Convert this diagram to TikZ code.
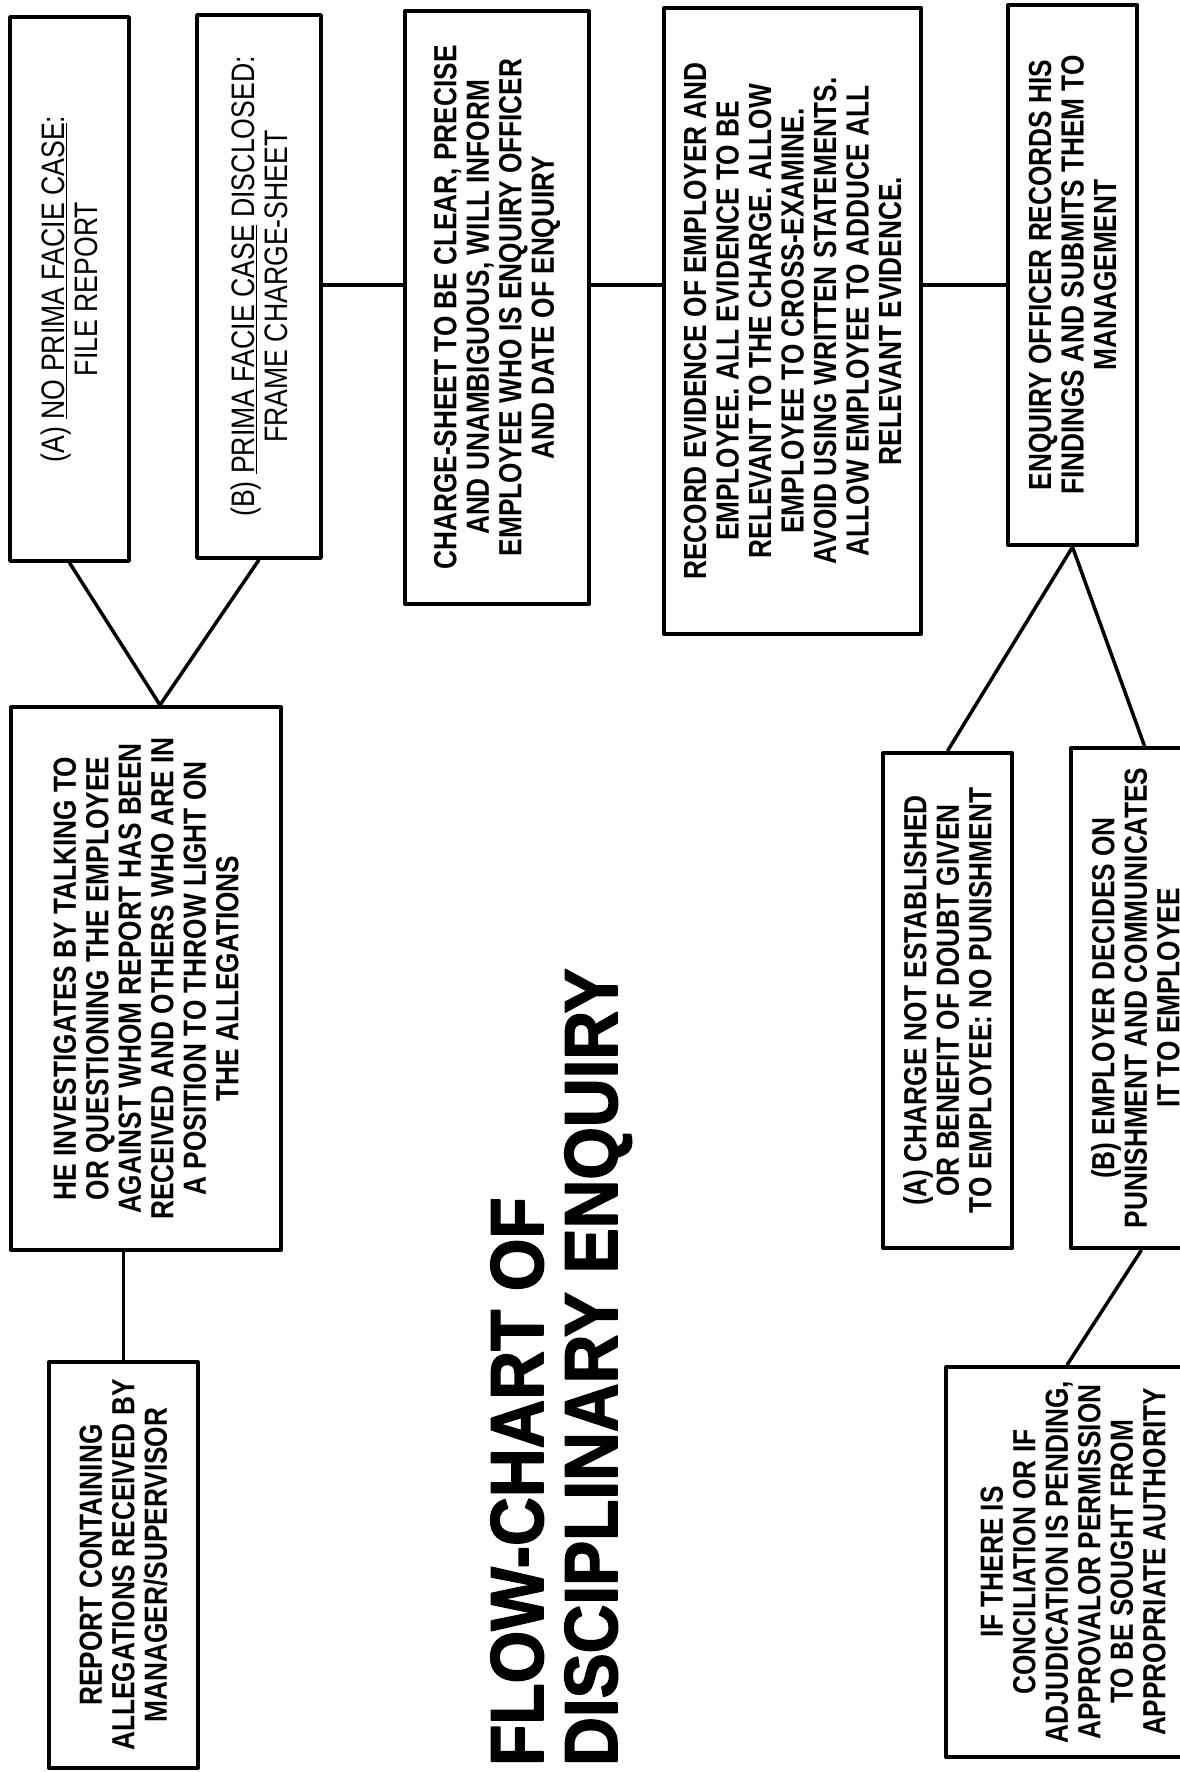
\documentclass[tikz,border=0pt]{standalone}
\usepackage{fontspec}
\setmainfont{Liberation Sans}[FakeStretch=0.82]
\newfontfamily\headfont{Liberation Sans}[FakeStretch=0.9,FakeBold=2]
\begin{document}
\begin{tikzpicture}[x=1pt,y=-1pt,line join=round,
		box/.style={draw,line width=4pt,rotate=90,align=center,inner sep=0pt,font=\bfseries\fontsize{32}{32.5}\selectfont},
		thinbox/.style={box,line width=3.5pt,font=\fontsize{32.5}{33}\selectfont},
		heading/.style={rotate=90,anchor=base west,inner sep=0pt,font=\headfont\bfseries\fontsize{75}{80}\selectfont},
		link/.style={line width=3.5pt}]
		\useasboundingbox (0,0) rectangle (1180,1772);
		\fill[white] (0,0) rectangle (1180,1772);
		\clip (0,0) rectangle (1180,1772);
		% boxes hanging from the top edge
		\node[thinbox,minimum width=544pt,minimum height=119pt] (nofacie) at (69.5,289) {(A) \underline{NO PRIMA FACIE CASE}:\\FILE REPORT};
		\node[thinbox,minimum width=543pt,minimum height=124pt] (facie) at (259,286.5) {(B) \underline{PRIMA FACIE CASE} DISCLOSED:\\FRAME CHARGE-SHEET};
		\node[box,minimum width=593pt,minimum height=184pt] (charge) at (497,307.5) {CHARGE-SHEET TO BE CLEAR, PRECISE\\AND UNAMBIGUOUS, WILL INFORM\\EMPLOYEE WHO IS ENQUIRY OFFICER\\AND DATE OF ENQUIRY};
		\node[box,minimum width=626pt,minimum height=257pt] (record) at (792.5,321) {RECORD EVIDENCE OF EMPLOYER AND\\EMPLOYEE. ALL EVIDENCE TO BE\\RELEVANT TO THE CHARGE. ALLOW\\EMPLOYEE TO CROSS-EXAMINE.\\AVOID USING WRITTEN STATEMENTS.\\ALLOW EMPLOYEE TO ADDUCE ALL\\RELEVANT EVIDENCE.};
		\node[box,minimum width=540pt,minimum height=129pt] (enquiry) at (1072.5,275) {ENQUIRY OFFICER RECORDS HIS\\FINDINGS AND SUBMITS THEM TO\\MANAGEMENT};
		% lower boxes
		\node[box,minimum width=543pt,minimum height=270pt] (investigate) at (146,978.5) {HE INVESTIGATES BY TALKING TO\\OR QUESTIONING THE EMPLOYEE\\AGAINST WHOM REPORT HAS BEEN\\RECEIVED AND OTHERS WHO ARE IN\\A POSITION TO THROW LIGHT ON\\THE ALLEGATIONS};
		\node[box,minimum width=406pt,minimum height=149pt] (report) at (123.5,1565) {REPORT CONTAINING\\ALLEGATIONS RECEIVED BY\\MANAGER/SUPERVISOR};
		\node[box,minimum width=495pt,minimum height=129pt] (notest) at (947.5,1000.5) {(A) CHARGE NOT ESTABLISHED\\OR BENEFIT OF DOUBT GIVEN\\TO EMPLOYEE: NO PUNISHMENT};
		\node[box,minimum width=500pt,minimum height=129pt] (decide) at (1135.5,998) {(B) EMPLOYER DECIDES ON\\PUNISHMENT AND COMMUNICATES\\IT TO EMPLOYEE};
		\node[box,minimum width=390pt,minimum height=254pt] (ifbox) at (1073,1562) {IF THERE IS\\CONCILIATION OR IF\\ADJUDICATION IS PENDING,\\APPROVALOR PERMISSION\\TO BE SOUGHT FROM\\APPROPRIATE AUTHORITY};
		% title
		\node[heading] (title1) at (543,1766) {FLOW-CHART OF};
		\node[heading] (title2) at (617,1766) {DISCIPLINARY ENQUIRY};
		% connectors
		\coordinate (spine) at (0,285);
		\draw[link] (facie.south |- spine) -- (charge.north |- spine);
		\draw[link] (charge.south |- spine) -- (record.north |- spine);
		\draw[link] (record.south |- spine) -- (enquiry.north |- spine);
		\draw[link] (nofacie.west) -- ([xshift=14pt]investigate.east) -- (facie.west);
		\draw[link] (investigate.west -| report.east) -- (report.east);
		\draw[link] (notest.east) -- (enquiry.west) -- ([xshift=9pt]decide.east);
		\draw[link] ([xshift=6pt]decide.west) -- ([xshift=-6pt]ifbox.east);
\end{tikzpicture}
\end{document}
